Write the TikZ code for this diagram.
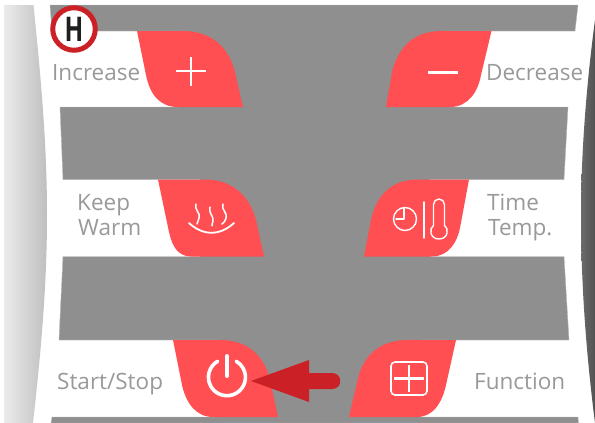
\documentclass[tikz,border=0pt]{standalone}
\usepackage{fontspec}
\setmainfont{Open Sans}
\definecolor{panelgray}{HTML}{8F8F8F}
\definecolor{edgegray}{HTML}{B8B8B8}
\definecolor{keyred}{HTML}{FF4F52}
\definecolor{markred}{HTML}{CC2027}
\definecolor{labelgray}{HTML}{999999}
\tikzset{
  key/.style={fill=keyred,draw=none},
  icon/.style={draw=white,line width=1.4pt,line cap=round,line join=round},
  keylabel/.style={anchor=base west,inner sep=0pt,text=labelgray,font=\fontsize{22.5}{25}\selectfont},
}
\begin{document}
\begin{tikzpicture}[x=1pt,y=-1pt]
\useasboundingbox (0,0) rectangle (595,423);
\fill[white] (0,0) rectangle (595,423);
% side strips
\shade[left color=black!8,right color=black!25]
  (4,5) -- (33.5,5) .. controls (40,70) and (47,140) .. (47,215)
  .. controls (47,290) and (40,360) .. (33,423) -- (4,423) -- cycle;
\shade[left color=black!58,right color=black!68]
  (595,20) .. controls (587,80) and (581,150) .. (581,215)
  .. controls (581,290) and (587,360) .. (595,423) -- cycle;
% panel
\fill[panelgray,draw=edgegray,line width=.4pt]
  (50,5) -- (578,5) -- (575,31) -- (445,31) -- (445,107) -- (568,107)
  -- (564,179.5) -- (430,179.5) -- (430,256.5) -- (564,256.5) -- (569,340)
  -- (420,340) -- (420,417) -- (578,417) -- (578.5,423) -- (51,423) -- (52,417)
  -- (220,417) -- (220,340) -- (59,340) -- (63,256.5) -- (200,256.5) -- (200,179.5)
  -- (63,179.5) -- (60,107) -- (180,107) -- (180,31) -- (52,31) -- cycle;
% keys
\fill[key] (137,31) -- (183,31) .. controls (212,31) and (229,48) .. (235,72)
  .. controls (238,85) and (240,95) .. (243,107) -- (178,107)
  .. controls (160,107) and (150,95) .. (146,75) -- cycle;
\fill[key] (491.5,31) -- (442,31) .. controls (413,31) and (398,48) .. (392,72)
  .. controls (390,85) and (388,95) .. (386,107) -- (450,107)
  .. controls (468,107) and (478,92) .. (481,75) -- cycle;
\fill[key] (158,179.5) -- (205,179.5) .. controls (233,179.5) and (250,197) .. (256,220)
  -- (264,256.5) -- (191,256.5)
  .. controls (178,256.5) and (172,246) .. (169,232) -- cycle;
\fill[key] (469,179.5) -- (418,179.5) .. controls (390,179.5) and (376,197) .. (371,220)
  -- (364,256.5) -- (432,256.5)
  .. controls (448,256.5) and (457,243) .. (460,228) -- cycle;
\fill[key] (173,340) -- (220,340) .. controls (247,340) and (264,355) .. (270,380)
  -- (278,417) -- (213,417)
  .. controls (196,417) and (186,403) .. (182,385) -- cycle;
\fill[key] (456,340) -- (408,340) .. controls (380,340) and (364,355) .. (358,378)
  -- (349,417) -- (417,417)
  .. controls (433,417) and (442,403) .. (446,385) -- cycle;
% icons
\draw[icon,line width=2.3pt,line cap=butt] (176,71) -- (206,71) (191,57) -- (191,86);
\draw[icon,line width=2.6pt,line cap=butt] (428,72.5) -- (458,72.5);
\draw[icon,line width=1.8pt] (189,223) .. controls (203,236) and (220,236) .. (234,223);
\draw[icon,line width=1.5pt] (196,204) .. controls (194,210) and (201,213) .. (199,218) .. controls (198,222) and (197,223) .. (197,224);
\draw[icon,line width=1.5pt] (210,207) .. controls (208,213) and (214,216) .. (213,221) .. controls (212,224) and (212,225) .. (212,226);
\draw[icon,line width=1.5pt] (223,204) .. controls (221,210) and (228,213) .. (226,218) .. controls (225,222) and (223,223) .. (222,224);
\draw[icon] (405,219) circle[radius=11.5];
\draw[icon] (404,208) -- (404,219) -- (396,219);
\draw[icon] (424,202) -- (424,238);
\draw[icon] (433.5,225.5) -- (433.5,204.5) .. controls (433.5,201.5) and (436,199) .. (439,199)
  .. controls (442,199) and (444.5,201.5) .. (444.5,204.5) -- (444.5,225.5)
  .. controls (449,228) and (448.5,239) .. (439,239) .. controls (429.5,239) and (429,228) .. (433.5,225.5);
\draw[icon,line width=1.6pt,rounded corners=4pt] (391,362) rectangle (427,395);
\draw[icon,line width=2.8pt,line cap=butt] (394,378.5) -- (424,378.5) (409,365) -- (409,392);
\draw[icon,line width=3.6pt] (217.7,361.2) arc[start angle=240,end angle=-60,radius=18.5];
\draw[icon,line width=4pt,line cap=round] (227,356) -- (227,376);
% arrow
\fill[markred] (251,381) -- (309,360) -- (309,373) -- (332,373)
  .. controls (343,373) and (343,389) .. (332,389) -- (309,389) -- (309,402) -- cycle;
% badge
\node[circle,fill=white,draw=markred,line width=5pt,minimum size=42.5pt,inner sep=0pt] (badge) at (74,29) {};
\node[inner sep=0pt,text=black!88] (badgeH) at (74,29) {\scalebox{.72}[1]{\fontsize{34}{34}\selectfont\bfseries H}};
% labels
\node[keylabel] (increase) at (52,80) {Increase};
\node[keylabel] (decrease) at (486,80) {Decrease};
\node[keylabel] (keep) at (77,210.5) {Keep};
\node[keylabel] (warm) at (78,235) {Warm};
\node[keylabel] (time) at (487,210.5) {Time};
\node[keylabel] (temp) at (488,235) {Temp.};
\node[keylabel] (startstop) at (57,389) {Start/Stop};
\node[keylabel] (function) at (474,389) {Function};
\end{tikzpicture}
\end{document}
